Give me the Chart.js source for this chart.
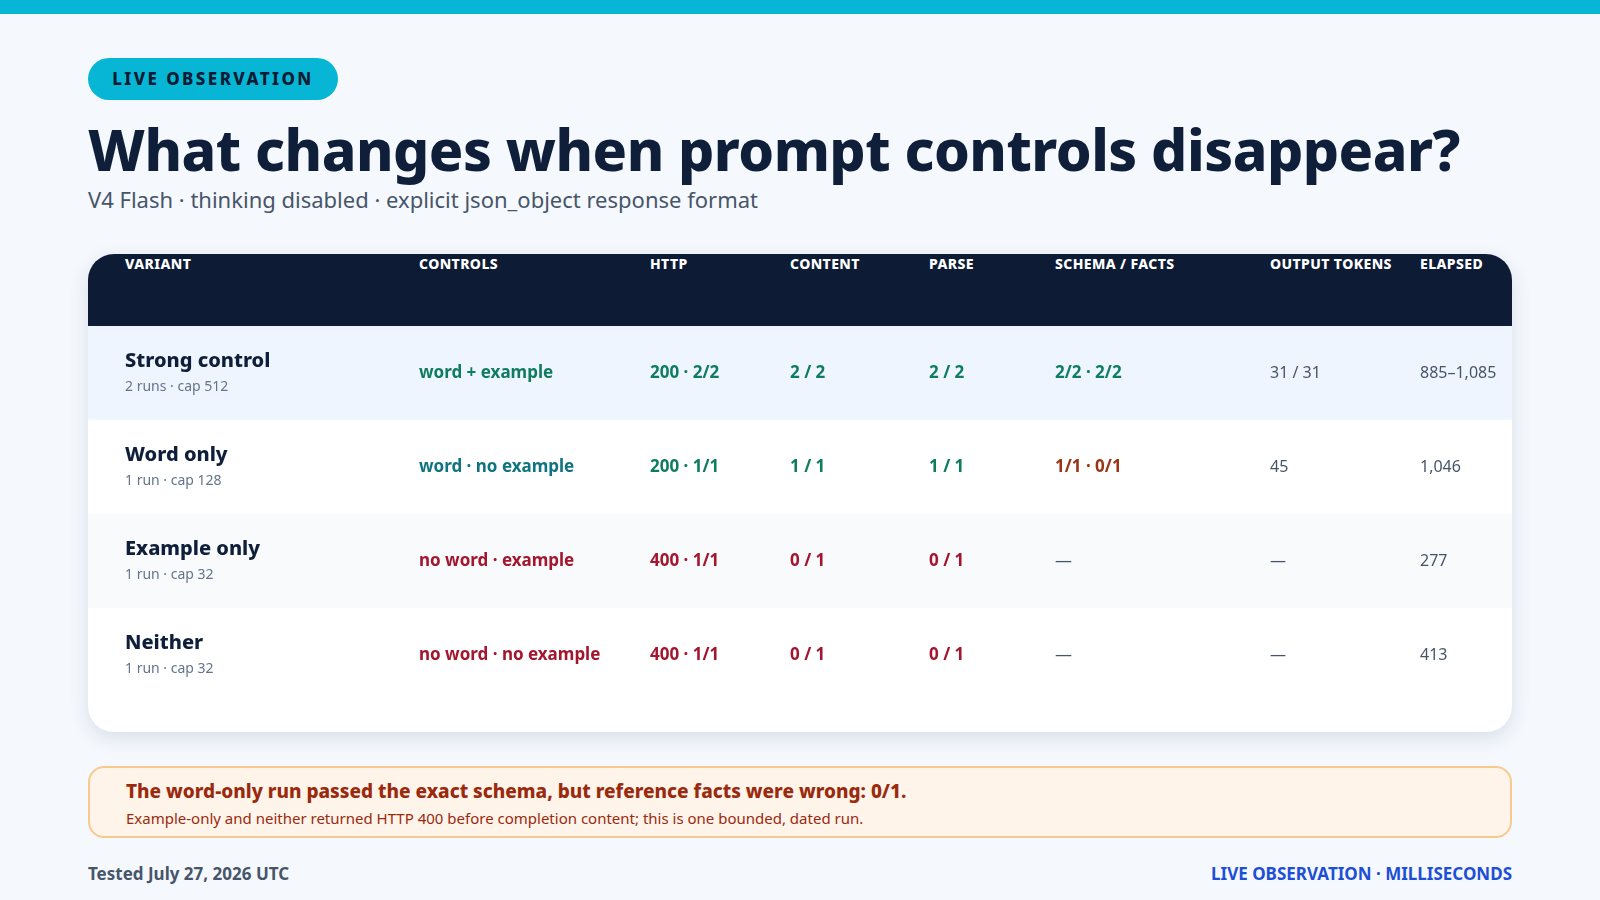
<!DOCTYPE html>
<html><head><meta charset="utf-8">
<script src="https://cdn.jsdelivr.net/npm/chart.js@4"></script>
<style>
body{margin:0;width:1600px;height:900px;background:#f5f9fe;font-family:"Noto Sans",sans-serif;position:relative;overflow:hidden}
.top{position:absolute;left:0;top:0;width:1600px;height:14px;background:#06b6d4}
.pill{position:absolute;left:88px;top:58px;width:250px;height:42px;border-radius:21px;background:#06b6d4;color:#0d1b35;font:800 17px "Noto Sans";letter-spacing:2.4px;line-height:42px;text-align:center}
h1{position:absolute;left:88px;top:110px;margin:0;font:800 57px "Noto Sans";color:#0f1f3a;letter-spacing:-0.5px}
.sub{position:absolute;left:88px;top:184px;font:22px "Noto Sans";color:#475569}
.card{position:absolute;left:88px;top:254px;width:1424px;height:478px;border-radius:26px;background:#fff;box-shadow:0 6px 20px rgba(15,31,58,.12);overflow:hidden}
.head{position:absolute;left:0;top:0;width:1424px;height:72px;background:#0d1b35}
.head span{position:absolute;top:0;line-height:72px;color:#fff;font:800 14px "Noto Sans";letter-spacing:.4px}
#wrap{position:absolute;left:0;top:72px;width:1424px;height:376px}
.call{position:absolute;left:88px;top:766px;width:1420px;height:68px;border:2px solid #f8c98d;border-radius:16px;background:#fff4ea}
.call b{position:absolute;left:36px;top:10px;font:800 19px "Noto Sans";color:#9a2a0e}
.call i{position:absolute;left:36px;top:40px;font-style:normal;font-size:15px;color:#9a2a0e}
.foot{position:absolute;top:862px;font:700 17px "Noto Sans"}
</style></head><body>
<div class="top"></div>
<div class="pill">LIVE OBSERVATION</div>
<h1>What changes when prompt controls disappear?</h1>
<div class="sub">V4 Flash · thinking disabled · explicit json_object response format</div>
<div class="card"><div class="head" id="head"></div><div id="wrap"><canvas id="c"></canvas></div></div>
<div class="call"><b>The word-only run passed the exact schema, but reference facts were wrong: 0/1.</b><i>Example-only and neither returned HTTP 400 before completion content; this is one bounded, dated run.</i></div>
<div class="foot" style="left:88px;color:#475569">Tested July 27, 2026 UTC</div>
<div class="foot" style="right:88px;color:#1d4ed8">LIVE OBSERVATION · MILLISECONDS</div>
<script>
const headers = ['VARIANT','CONTROLS','HTTP','CONTENT','PARSE','SCHEMA / FACTS','OUTPUT TOKENS','ELAPSED'];
const variants = ['Strong control','Word only','Example only','Neither'];
const runNotes = ['2 runs · cap 512','1 run · cap 128','1 run · cap 32','1 run · cap 32'];
const controls = ['word + example','word · no example','no word · example','no word · no example'];
const http = ['200 · 2/2','200 · 1/1','400 · 1/1','400 · 1/1'];
const content = ['2 / 2','1 / 1','0 / 1','0 / 1'];
const parse = ['2 / 2','1 / 1','0 / 1','0 / 1'];
const schemaFacts = ['2/2 · 2/2','1/1 · 0/1','—','—'];
const outputTokens = ['31 / 31','45','—','—'];
const elapsed = ['885–1,085','1,046','277','413'];
// row tone: ok / partial / fail
const rowStatus = ['ok','partial','fail','fail'];

const colX = [37,331,562,702,841,967,1182,1332];
const head = document.getElementById('head');
headers.forEach((h,i)=>{const s=document.createElement('span');s.textContent=h;s.style.left=colX[i]+'px';head.appendChild(s);});

const tone = {ok:'#0f7b5f',fail:'#a3162d',partial:'#0f7381',warn:'#9a3412',muted:'#475569'};
const rowBg = ['#eef5ff','#ffffff','#f8fafc','#ffffff'];

const cellText = {
  id:'cellText',
  afterDatasetsDraw(chart){
    const {ctx,scales:{x,y}} = chart;
    ctx.save(); ctx.textBaseline='middle';
    variants.forEach((v,i)=>{
      const cy = y.getPixelForValue(i);
      const st = rowStatus[i];
      ctx.fillStyle='#0f1f3a'; ctx.font='800 20px "Noto Sans"';
      ctx.fillText(v, x.getPixelForValue(colX[0]), cy-12);
      ctx.fillStyle='#64748b'; ctx.font='14px "Noto Sans"';
      ctx.fillText(runNotes[i], x.getPixelForValue(colX[0]), cy+14);
      const c = tone[st==='partial'?'ok':st];
      const cells = [
        [controls[i], tone[st]],
        [http[i], c],[content[i], c],[parse[i], c],
        [schemaFacts[i], schemaFacts[i]==='—'?tone.muted:(st==='partial'?tone.warn:c)]
      ];
      cells.forEach(([t,col],k)=>{
        ctx.fillStyle=col; ctx.font=(t==='—'?'400':'700')+' 17px "Noto Sans"';
        ctx.fillText(t, x.getPixelForValue(colX[k+1]), cy);
      });
      ctx.fillStyle=tone.muted; ctx.font='16px "Noto Sans"';
      ctx.fillText(outputTokens[i], x.getPixelForValue(colX[6]), cy);
      ctx.fillText(elapsed[i], x.getPixelForValue(colX[7]), cy);
    });
    ctx.restore();
  }
};

new Chart(document.getElementById('c'),{
  type:'bar',
  data:{labels:variants,datasets:[{data:variants.map(()=>1424),backgroundColor:rowBg,barPercentage:1,categoryPercentage:1,borderWidth:0}]},
  options:{
    indexAxis:'y',responsive:true,maintainAspectRatio:false,animation:false,
    layout:{padding:0},
    plugins:{legend:{display:false},tooltip:{enabled:false}},
    scales:{
      x:{type:'linear',min:0,max:1424,display:false},
      y:{type:'category',display:false,offset:true}
    }
  },
  plugins:[cellText]
});
</script>
</body></html>
